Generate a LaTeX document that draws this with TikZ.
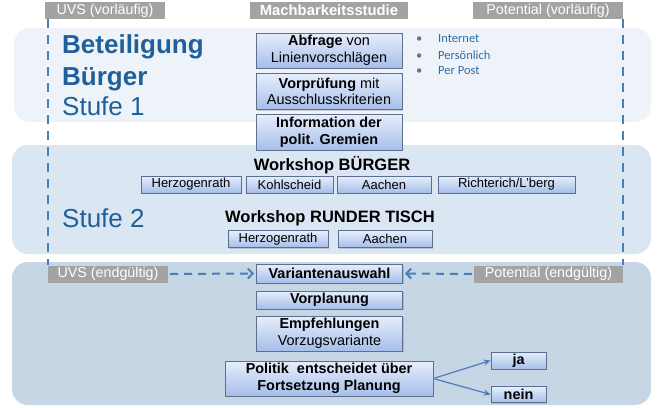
\documentclass[tikz,border=0pt]{standalone}
\usepackage{fontspec}
\setmainfont{Liberation Sans}
\newfontfamily\bulletfont{Carlito}
\usetikzlibrary{positioning}
\usetikzlibrary{arrows.meta}
\usetikzlibrary{shadows}

\definecolor{bandone}{HTML}{EEF2F9}
\definecolor{bandtwo}{HTML}{DAE7F3}
\definecolor{bandthree}{HTML}{C6D6E5}
\definecolor{headgray}{HTML}{A3A3A3}
\definecolor{titleblue}{HTML}{1F5F9A}
\definecolor{linkblue}{HTML}{4A7EBB}
\definecolor{bulletblue}{HTML}{2E6DA4}
\definecolor{boxtop}{HTML}{E6EEFB}
\definecolor{boxbottom}{HTML}{A6BEEA}
\definecolor{boxedge}{HTML}{5E6F8E}

\tikzset{
  flowbox/.style={draw=boxedge, line width=0.6pt, top color=boxtop,
    bottom color=boxbottom, align=center, inner sep=1pt,
    font=\fontsize{14.4}{16.5}\selectfont,
    drop shadow={shadow xshift=1pt, shadow yshift=-1.2pt, opacity=0.35}},
  boldbox/.style={flowbox, font=\fontsize{14.4}{16.5}\selectfont\bfseries},
  placebox/.style={flowbox, minimum height=17pt, font=\fontsize{13}{14}\selectfont},
  headbox/.style={fill=headgray, text=white, inner sep=0pt, minimum height=17pt,
    font=\fontsize{14.3}{16}\selectfont},
  band/.style={rounded corners=16pt},
  stufetitle/.style={text=titleblue, anchor=base west, inner sep=0pt,
    font=\fontsize{26}{30}\selectfont},
  workshop/.style={inner sep=0pt, anchor=base, font=\fontsize{16.5}{18}\selectfont\bfseries},
  bulletitem/.style={anchor=west, inner sep=0pt, text=bulletblue,
    font=\bulletfont\fontsize{12.5}{14}\selectfont},
  dashline/.style={linkblue, line width=2pt, dash pattern=on 9pt off 7pt},
  dasharrow/.style={linkblue, line width=2pt, dash pattern=on 8pt off 6pt,
    -{Straight Barb[length=5pt,width=10pt]}},
  choice/.style={linkblue, line width=1.2pt, -{Stealth[length=7pt,width=6pt]}}
}

\begin{document}
\begin{tikzpicture}[x=1pt,y=-1pt]
\useasboundingbox (0,0) rectangle (660,407);

\fill[bandone, band] (14,28) rectangle (651,122);
\fill[bandtwo, band] (12,145) rectangle (651,254);
\fill[bandthree, band] (12,262) rectangle (651,405);

\node[headbox, minimum width=120pt] (uvsv) at (105,10.5) {UVS (vorläufig)};
\node[headbox, minimum width=158pt, font=\fontsize{14.8}{16}\selectfont\bfseries]
    (machbar) at (329,10.5) {Machbarkeitsstudie};
\node[headbox, minimum width=150pt] (potv) at (548,10.5) {Potential (vorläufig)};

\node[stufetitle, font=\fontsize{26}{30}\selectfont\bfseries] (beteiligung) at (62,53) {Beteiligung};
\node[stufetitle, font=\fontsize{26}{30}\selectfont\bfseries] (buerger) at (62,85) {Bürger};
\node[stufetitle] (stufeone) at (62,115) {Stufe 1};
\node[stufetitle] (stufetwo) at (62,227) {Stufe 2};

\node[flowbox, minimum width=146pt, minimum height=35pt] (abfrage) at (329,50.5)
    {\textbf{Abfrage} von\\Linienvorschlägen};
\node[flowbox, minimum width=146pt, minimum height=36pt, below=5pt of abfrage] (vorpruefung)
    {\textbf{Vorprüfung} mit\\Ausschlusskriterien};
\node[boldbox, minimum width=146pt, minimum height=36pt, below=4pt of vorpruefung] (gremien)
    {Information der\\polit. Gremien};

\foreach \i/\txt in {1/Internet, 2/Persönlich, 3/Per Post} {
    \node[bulletitem] (bullet\i) at (416,23+16*\i)
        {\makebox[22pt][l]{\textcolor{black!55}{•}}\txt};
}

\node[workshop] (wsbuerger) at (332,170) {Workshop BÜRGER};
\foreach \name/\cx/\w/\txt in {herzo/191/100/Herzogenrath, kohl/289.5/87/Kohlscheid,
    aachen/384/94/Aachen, richt/506.5/137/{Richterich/L'berg}} {
    \node[placebox, minimum width=\w pt] (\name) at (\cx,184.5) {\txt};
}

\node[workshop] (wstisch) at (330,222) {Workshop RUNDER TISCH};
\node[placebox, minimum width=100pt] (tischherzo) at (278,239) {Herzogenrath};
\node[placebox, minimum width=94pt] (tischaachen) at (385,239) {Aachen};

\node[headbox, minimum width=120pt] (uvse) at (108,274) {UVS (endgültig)};
\node[boldbox, minimum width=146pt, minimum height=19pt] (auswahl) at (329.5,273.5)
    {Variantenauswahl};
\node[headbox, minimum width=149pt] (pote) at (548.5,274) {Potential (endgültig)};
\node[boldbox, minimum width=146pt, minimum height=18pt] (vorplanung) at (329.5,300)
    {Vorplanung};
\node[flowbox, minimum width=146pt, minimum height=35pt] (empfehlung) at (329.5,333.5)
    {\textbf{Empfehlungen}\\Vorzugsvariante};
\node[boldbox, minimum width=208pt, minimum height=35pt] (politik) at (329,378.5)
    {Politik~~entscheidet über\\Fortsetzung Planung};
\node[boldbox, minimum width=55pt, minimum height=17pt] (ja) at (518.5,360.5) {ja};
\node[boldbox, minimum width=55pt, minimum height=16pt] (nein) at (518.5,394.5) {nein};

\draw[dashline] (uvse.north west |- uvsv.south) -- (uvse.north west);
\draw[dashline] (pote.north east |- potv.south) -- (pote.north east);

\draw[dasharrow] ([xshift=2pt]uvse.east) -- ([xshift=-2pt]auswahl.west);
\draw[dasharrow] ([xshift=-2pt]pote.west) -- ([xshift=2pt]auswahl.east);

\draw[choice] (politik.east) -- (ja.west);
\draw[choice] (politik.east) -- (nein.west);
\end{tikzpicture}
\end{document}
